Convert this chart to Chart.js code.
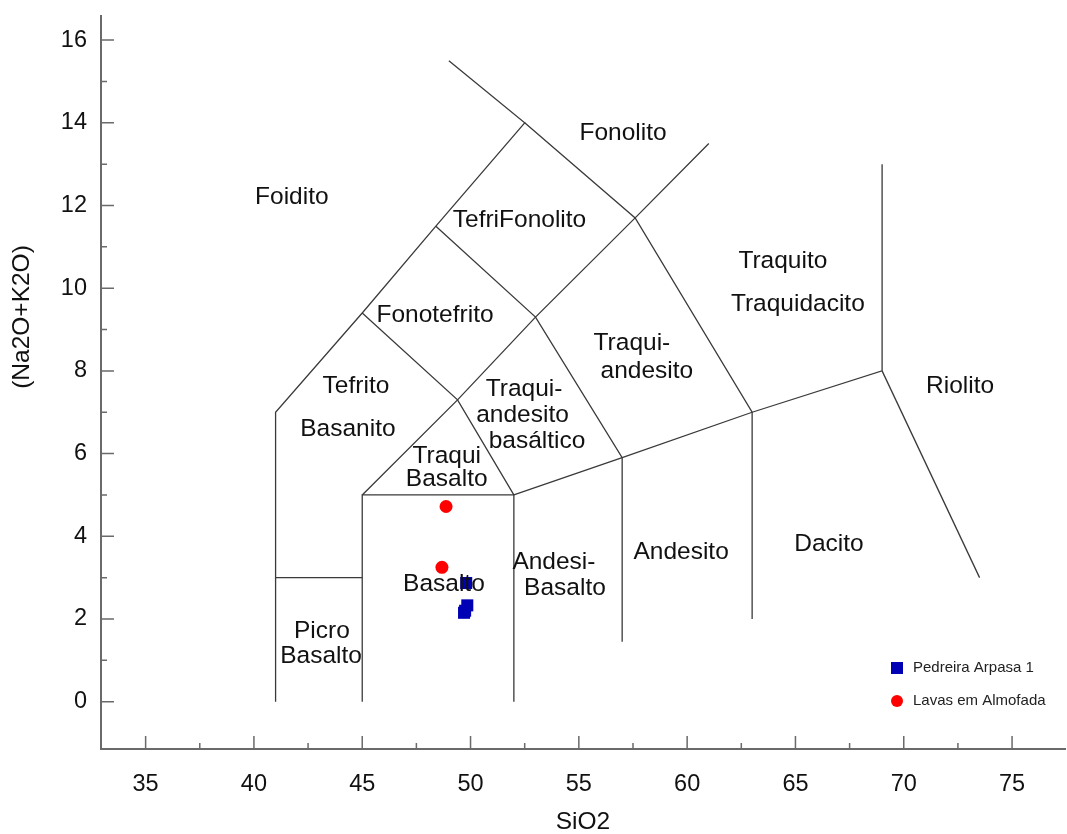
<!DOCTYPE html>
<html>
<head>
<meta charset="utf-8">
<script src="https://cdn.jsdelivr.net/npm/chart.js@4.4.1/dist/chart.umd.min.js"></script>
<style>html,body{margin:0;background:#fff}canvas{display:block}</style>
</head>
<body>
<canvas id="tas" width="1067" height="834"></canvas>
<script>
// samples
const arpasaSiO2 = [49.8, 49.85, 49.75, 49.7];
const arpasaAlk = [2.87, 2.33, 2.2, 2.15];
const lavasSiO2 = [48.87, 48.68];
const lavasAlk = [4.72, 3.25];

// TAS field boundaries (SiO2, Na2O+K2O)
const boundaries = [
    [[41, 0], [41, 7], [45, 9.4], [48.4, 11.5], [52.5, 14], [49, 15.5]],
    [[41, 3], [45, 3]],
    [[45, 0], [45, 5], [52, 5], [52, 0]],
    [[45, 5], [49.4, 7.3], [53, 9.3], [57.6, 11.7], [61, 13.5]],
    [[45, 9.4], [49.4, 7.3], [52, 5]],
    [[48.4, 11.5], [53, 9.3], [57, 5.9], [57, 1.45]],
    [[52.5, 14], [57.6, 11.7], [63, 7], [63, 2]],
    [[52, 5], [57, 5.9], [63, 7], [69, 8], [69, 13]],
    [[69, 8], [73.5, 3]],
];

const fieldNames = ['Foidito', 'Fonolito', 'TefriFonolito', 'Fonotefrito', 'Tefrito', 'Basanito',
    'Traqui', 'Basalto', 'Traqui-', 'andesito', 'basáltico', 'Traqui-', 'andesito',
    'Traquito', 'Traquidacito', 'Riolito', 'Dacito', 'Andesito', 'Andesi-', 'Basalto',
    'Basalto', 'Picro', 'Basalto'];
const fieldX = [41.75, 57.04, 52.26, 48.36, 44.71, 44.34, 48.9, 48.9, 52.47, 52.4, 53.07, 57.45, 58.14,
    64.42, 65.11, 72.6, 66.55, 59.72, 53.85, 54.36, 48.77, 43.14, 43.1];
const fieldY = [12.2, 13.75, 11.64, 9.34, 7.63, 6.6, 5.94, 5.39, 7.56, 6.93, 6.3, 8.67, 8.0,
    10.66, 9.6, 7.64, 3.81, 3.62, 3.38, 2.75, 2.85, 1.71, 1.1];

const xMajor = [35, 40, 45, 50, 55, 60, 65, 70, 75];
const xMinor = [37.5, 42.5, 47.5, 52.5, 57.5, 62.5, 67.5, 72.5];
const yMajor = [0, 2, 4, 6, 8, 10, 12, 14, 16];
const yMinor = [1, 3, 5, 7, 9, 11, 13, 15];

const FONT = 'Liberation Sans, Arial, sans-serif';
const AXIS = '#6a6a6a', LINE = '#3a3a3a', INK = '#111';

const pts = (xs, ys) => xs.map((x, i) => ({ x, y: ys[i] }));

const lineSets = boundaries.map(b => ({
    type: 'scatter', data: b.map(([x, y]) => ({ x, y })), showLine: true,
    borderColor: LINE, borderWidth: 1.3, pointRadius: 0, tension: 0, label: '',
}));

const noPad = s => { s.paddingLeft = 0; s.paddingRight = 0; s.paddingTop = 0; s.paddingBottom = 0; };

const deco = {
    id: 'deco',
    afterDatasetsDraw(chart) {
        const { ctx, chartArea: a, scales: { x, y } } = chart;
        ctx.save();
        // axes
        ctx.strokeStyle = AXIS; ctx.lineWidth = 2;
        ctx.beginPath();
        ctx.moveTo(a.left, a.top); ctx.lineTo(a.left, a.bottom); ctx.lineTo(a.right, a.bottom);
        ctx.stroke();
        ctx.lineWidth = 1.5;
        ctx.beginPath();
        xMajor.forEach(v => { const p = x.getPixelForValue(v); ctx.moveTo(p, a.bottom); ctx.lineTo(p, a.bottom - 13); });
        xMinor.forEach(v => { const p = x.getPixelForValue(v); ctx.moveTo(p, a.bottom); ctx.lineTo(p, a.bottom - 6); });
        yMajor.forEach(v => { const p = y.getPixelForValue(v); ctx.moveTo(a.left, p); ctx.lineTo(a.left + 13, p); });
        yMinor.forEach(v => { const p = y.getPixelForValue(v); ctx.moveTo(a.left, p); ctx.lineTo(a.left + 6, p); });
        ctx.stroke();

        // field names
        ctx.fillStyle = INK;
        ctx.font = '24.5px ' + FONT;
        ctx.textAlign = 'center'; ctx.textBaseline = 'middle';
        fieldNames.forEach((t, i) => ctx.fillText(t, x.getPixelForValue(fieldX[i]), y.getPixelForValue(fieldY[i])));

        // axis titles
        ctx.fillText('SiO2', 583, 822);
        ctx.save();
        ctx.translate(22, 317); ctx.rotate(-Math.PI / 2);
        ctx.fillText('(Na2O+K2O)', 0, 0);
        ctx.restore();

        // legend
        ctx.font = '15px ' + FONT;
        ctx.textAlign = 'left';
        const sets = chart.data.datasets.slice(0, 2);
        sets.forEach((d, i) => {
            const cy = 668 + i * 33, cx = 897;
            ctx.fillStyle = d.backgroundColor;
            if (d.pointStyle === 'rect') ctx.fillRect(cx - 6, cy - 6, 12, 12);
            else { ctx.beginPath(); ctx.arc(cx, cy, 6, 0, Math.PI * 2); ctx.fill(); }
            ctx.fillStyle = '#222';
            ctx.fillText(d.label, 913, cy);
        });
        ctx.restore();
    },
};

new Chart(document.getElementById('tas'), {
    type: 'scatter',
    data: {
        datasets: [
            { label: 'Pedreira Arpasa 1', data: pts(arpasaSiO2, arpasaAlk), pointStyle: 'rect', pointRadius: 8.5, backgroundColor: '#0000b4', borderWidth: 0 },
            { label: 'Lavas em Almofada', data: pts(lavasSiO2, lavasAlk), pointStyle: 'circle', pointRadius: 6.5, backgroundColor: '#ff0000', borderWidth: 0 },
            ...lineSets,
        ],
    },
    options: {
        responsive: false, animation: false,
        layout: { autoPadding: false, padding: { left: 1, top: 15, right: 1, bottom: 0 } },
        plugins: { legend: { display: false }, tooltip: { enabled: false } },
        scales: {
            x: {
                type: 'linear', min: 32.94, max: 77.49,
                afterFit: s => { s.height = 85; noPad(s); },
                grid: { display: false, drawTicks: false }, border: { display: false },
                ticks: { stepSize: 5, includeBounds: false, color: INK, font: { family: FONT, size: 23.5 }, padding: 21 },
            },
            y: {
                type: 'linear', min: -1.144, max: 16.607,
                afterFit: s => { s.width = 100; noPad(s); },
                grid: { display: false, drawTicks: false }, border: { display: false },
                ticks: { stepSize: 2, includeBounds: false, color: INK, font: { family: FONT, size: 23.5 }, padding: 14 },
            },
        },
    },
    plugins: [deco],
});
</script>
</body>
</html>
